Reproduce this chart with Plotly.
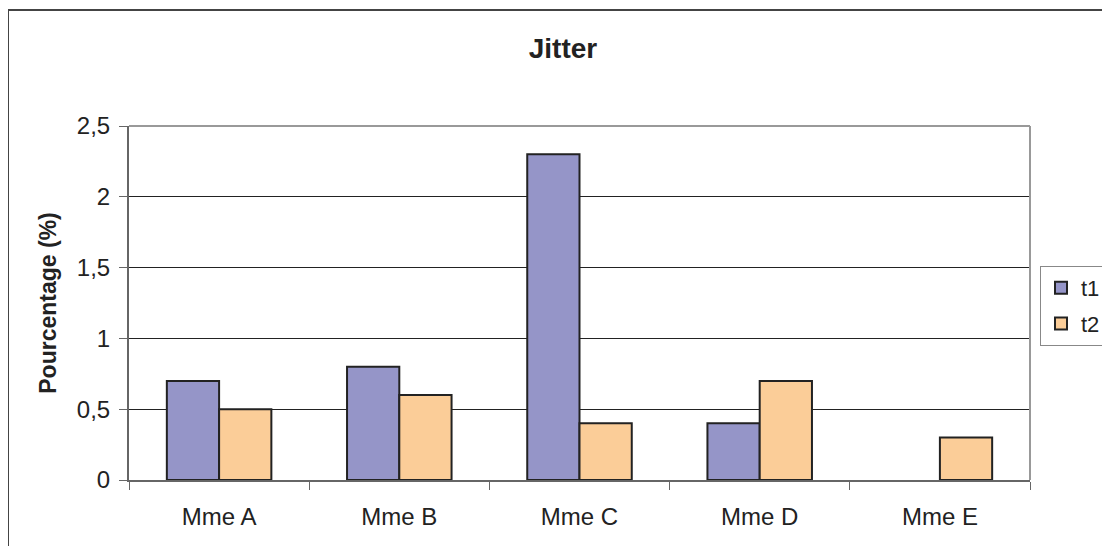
import plotly.graph_objects as go

categories = ["Mme A", "Mme B", "Mme C", "Mme D", "Mme E"]
t1 = [0.7, 0.8, 2.3, 0.4, None]
t2 = [0.5, 0.6, 0.4, 0.7, 0.3]
y_ticks = [0, 0.5, 1, 1.5, 2, 2.5]
y_ticklabels = ["0", "0,5", "1", "1,5", "2", "2,5"]

OFF = 8  # default page body margin
W, H = 1110 - 2 * OFF, 554 - 2 * OFF
L, R, T, B = 129 - OFF, 1030 - OFF, 126 - OFF, 480 - OFF
pw, ph = R - L, B - T

fig = go.Figure()
fig.add_trace(go.Bar(name="t1", x=categories, y=t1, legendgroup="a",
                     marker=dict(color="#9595C8", line=dict(color="#222222", width=2))))
fig.add_trace(go.Bar(name="t2", x=categories, y=t2, legendgroup="b",
                     marker=dict(color="#FBCD98", line=dict(color="#222222", width=2))))

font = "Liberation Sans, Arial, sans-serif"
fig.update_layout(
    width=W, height=H,
    margin=dict(l=L, r=W - R, t=T, b=H - B, pad=0, autoexpand=False),
    paper_bgcolor="white", plot_bgcolor="white",
    barmode="group", bargap=0.42, bargroupgap=0,
    font=dict(family=font, size=22, color="#222222"),
    title=dict(text="<b>Jitter</b>", x=(563 - OFF) / W, xanchor="center", y=1 - (48 - OFF) / H,
               yanchor="middle", font=dict(size=28, family=font, color="#222222")),
    xaxis=dict(showline=True, linecolor="#666666", linewidth=2, ticks="outside", ticklen=8,
               tickcolor="#666666", tickwidth=1, tickson="boundaries", showgrid=False,
               tickfont=dict(size=24), ticklabelstandoff=14, mirror=False),
    yaxis=dict(range=[0, 2.5], tickvals=y_ticks, ticktext=y_ticklabels, showline=True,
               linecolor="#666666", linewidth=2, ticks="outside", ticklen=8, tickcolor="#666666",
               showgrid=True, gridcolor="#222222", gridwidth=1, zeroline=False,
               tickfont=dict(size=24), ticklabelstandoff=4,
               title=dict(text="<b>Pourcentage (%)</b>", font=dict(size=23), standoff=14)),
    legend=dict(xref="container", yref="container",
                x=(1040 - OFF) / W, y=1 - (266 - OFF) / H, xanchor="left", yanchor="top",
                bordercolor="#888888", borderwidth=1, bgcolor="white",
                font=dict(size=22), traceorder="grouped", tracegroupgap=4, itemwidth=30),
    showlegend=True,
)
# plot area top and right border (gray)
fig.add_shape(type="line", xref="paper", yref="paper", x0=0, x1=1, y0=1, y1=1,
              line=dict(color="#999999", width=2))
fig.add_shape(type="line", xref="paper", yref="paper", x0=1, x1=1, y0=0, y1=1,
              line=dict(color="#999999", width=2))
# outer chart border (left and top visible)
x_out = (8 - 129) / pw
y_out = (480 - 10) / ph
fig.add_shape(type="line", xref="paper", yref="paper", x0=x_out, x1=x_out, y0=y_out, y1=(480 - 600) / ph,
              line=dict(color="#444444", width=2))
fig.add_shape(type="line", xref="paper", yref="paper", x0=x_out, x1=(1200 - 129) / pw, y0=y_out, y1=y_out,
              line=dict(color="#444444", width=2))

fig.write_html("out.html")
